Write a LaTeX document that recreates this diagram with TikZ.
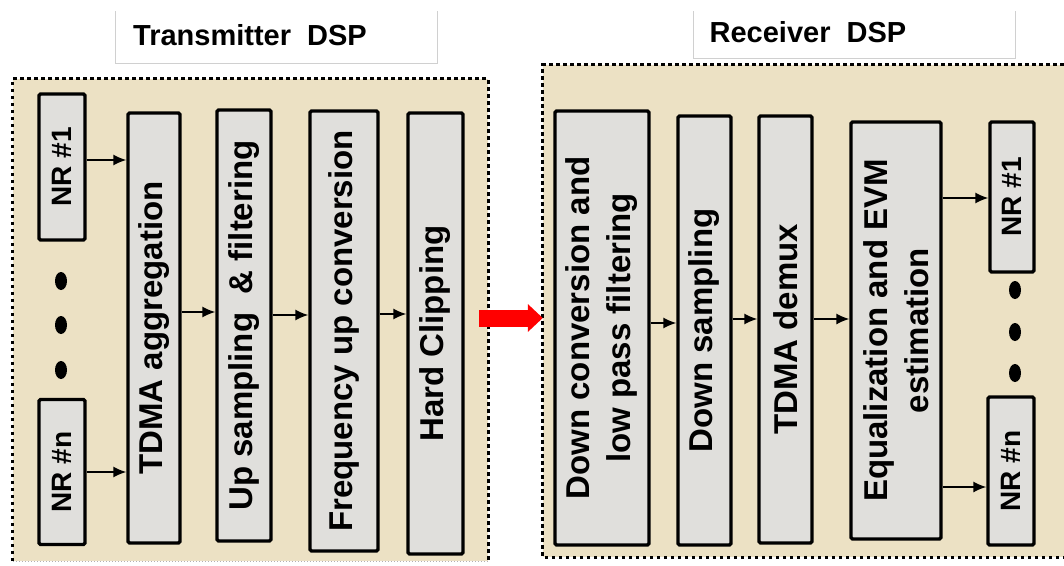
\documentclass[tikz,border=0pt]{standalone}
\usepackage{fontspec}
\setmainfont{Liberation Sans}
\usepackage{xcolor}
\usepackage{tikz}
\usetikzlibrary{arrows, arrows.meta}
\definecolor{parchment}{RGB}{236,225,196}
\definecolor{blockgray}{RGB}{224,223,220}
\definecolor{titleline}{RGB}{208,208,208}
\tikzset{
  BlockStyle/.style={draw, fill=blockgray, line width=3.3pt, rounded corners=1.5pt,
    rotate=90, inner sep=0pt, align=center, font=\bfseries\fontsize{33}{41}\selectfont},
  NRStyle/.style={BlockStyle, font=\bfseries\fontsize{28}{32}\selectfont},
  DSPStyle/.style={fill=parchment, inner sep=0pt},
  DotEdge/.style={line width=3pt, dash pattern=on 3.5pt off 3.5pt},
  EdgeStyle/.style={-{Latex[length=13pt, width=11pt]}, line width=1.6pt},
  TitleStyle/.style={font=\bfseries\fontsize{29}{34}\selectfont, anchor=base}
}

\begin{document}
\begin{tikzpicture}[x=1pt, y=-1pt]
\useasboundingbox (0,0) rectangle (1064,565);
% titles
\draw[titleline, line width=1pt] (115,11) |- (437,63) -- (437,11);
\node[TitleStyle] (txtitle) at (250,45) {Transmitter\ \ DSP};
\draw[titleline, line width=1pt] (693,11) |- (1015,58) -- (1015,11);
\node[TitleStyle] (rxtitle) at (808,42) {Receiver\ \ DSP};
% DSP areas
\node[DSPStyle, minimum width=475pt, minimum height=482pt] (txdsp) at (250.5,320) {};
\draw[DotEdge] (txdsp.south west) -- (txdsp.north west) -- (txdsp.north east) -- (txdsp.south east);
\draw[gray!60, line width=1pt, dotted] (txdsp.south west) -- (txdsp.south east);
\node[DSPStyle, minimum width=537pt, minimum height=492pt] (rxdsp) at (811.5,311) {};
\draw[DotEdge] (rxdsp.south east) -- (rxdsp.south west) -- (rxdsp.north west) -- (rxdsp.north east);
% transmitter
\node[NRStyle, minimum width=146pt, minimum height=46pt] (txnr1) at (62,167) {NR \#1};
\node[NRStyle, minimum width=145pt, minimum height=46pt] (txnrn) at (62,472) {NR \#n};
\node[BlockStyle, minimum width=430pt, minimum height=52pt] (tdma) at (154,328) {TDMA aggregation};
\node[BlockStyle, minimum width=431pt, minimum height=54pt] (upsamp) at (244,325.5) {Up sampling\ \ \& filtering};
\node[BlockStyle, minimum width=440pt, minimum height=68pt] (frequp) at (344,331) {Frequency up conversion};
\node[BlockStyle, minimum width=441pt, minimum height=55pt] (clip) at (435.5,333.5) {Hard Clipping};
\foreach \y in {281,325,370}
  \fill (61,\y) ellipse [x radius=6, y radius=9];
% receiver
\node[BlockStyle, minimum width=434pt, minimum height=94pt] (dconv) at (602,328) {Down conversion and\\low pass filtering};
\node[BlockStyle, minimum width=429pt, minimum height=53pt] (dsamp) at (704.5,330.5) {Down sampling};
\node[BlockStyle, minimum width=427pt, minimum height=53pt] (demux) at (785.5,329.5) {TDMA demux};
\node[BlockStyle, minimum width=417pt, minimum height=90pt] (equal) at (896,330.5) {Equalization and EVM\\estimation};
\node[NRStyle, minimum width=150pt, minimum height=44pt] (rxnr1) at (1012,197) {NR \#1};
\node[NRStyle, minimum width=148pt, minimum height=46pt] (rxnrn) at (1011,471) {NR \#n};
\foreach \y in {290,332,373}
  \fill (1015,\y) ellipse [x radius=6, y radius=9];
% connections
\draw[EdgeStyle] (txnr1.south |- 0,160) -- (tdma.north |- 0,160);
\draw[EdgeStyle] (txnrn.south) -- (txnrn.south -| tdma.north);
\draw[EdgeStyle] (tdma.south |- 0,312) -- (upsamp.north |- 0,312);
\draw[EdgeStyle] (upsamp.south |- 0,315) -- (frequp.north |- 0,315);
\draw[EdgeStyle] (frequp.south |- 0,314) -- (clip.north |- 0,314);
\draw[EdgeStyle] (dconv.south |- 0,323) -- (dsamp.north |- 0,323);
\draw[EdgeStyle] (dsamp.south |- 0,319) -- (demux.north |- 0,319);
\draw[EdgeStyle] (demux.south |- 0,319) -- (equal.north |- 0,319);
\draw[EdgeStyle] (equal.south |- 0,198) -- (rxnr1.north |- 0,198);
\draw[EdgeStyle] (equal.south |- 0,487) -- (rxnrn.north |- 0,487);
\coordinate (redstart) at (479,318);
\draw[red, line width=17pt, -{Triangle[length=15pt, width=27pt]}] (redstart) -- (rxdsp.west |- redstart);
\end{tikzpicture}
\end{document}
